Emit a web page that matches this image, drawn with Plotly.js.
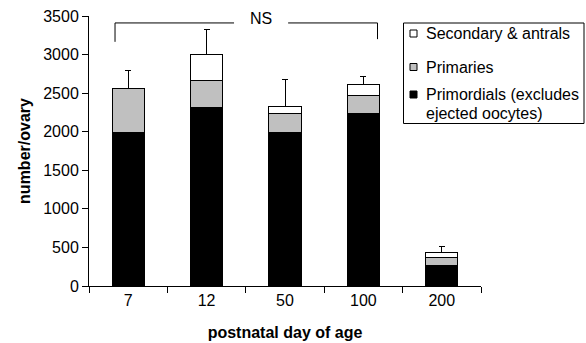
<!DOCTYPE html>
<html><head><meta charset="utf-8">
<script src="https://cdn.plot.ly/plotly-3.0.1.min.js"></script>
<style>html,body{margin:0;padding:0;background:#fff}#chart{width:586px;height:343px}</style>
</head><body><div id="chart"></div>
<script>
const days = ['7', '12', '50', '100', '200'];
const primordials = [1990, 2320, 1985, 2235, 268];
const primaries = [565, 350, 250, 232, 100];
const secondary = [10, 337, 95, 140, 70];
const errUp = [235, 320, 350, 112, 78];
const errDown = [0, 0, 0, 0, 0];
const yTicks = [0, 500, 1000, 1500, 2000, 2500, 3000, 3500];
const seriesNames = ['Secondary & antrals', 'Primaries', 'Primordials (excludes<br>ejected oocytes)'];
const seriesColors = ['white', '#c0c0c0', 'black'];

const FONT = "'Liberation Sans', Arial, sans-serif";
const line = {color: 'black', width: 1};

const traces = [
  {type: 'bar', x: days, y: primordials, name: seriesNames[2],
   marker: {color: seriesColors[2], line: line}},
  {type: 'bar', x: days, y: primaries, name: seriesNames[1],
   marker: {color: seriesColors[1], line: line}},
  {type: 'bar', x: days, y: secondary, name: seriesNames[0],
   marker: {color: seriesColors[0], line: line},
   error_y: {type: 'data', symmetric: false, array: errUp, arrayminus: errDown,
             color: 'black', thickness: 1, width: 3}}
];

// plot area in pixels: x 89..481, y 16..286
const px = v => (v - 89) / 392;
const py = v => (286 - v) / 270;

const shapes = [
  {type: 'line', xref: 'x', yref: 'y', x0: -0.168, x1: 1.35, y0: 3410, y1: 3410, line: line},
  {type: 'line', xref: 'x', yref: 'y', x0: 2.04, x1: 3.18, y0: 3410, y1: 3410, line: line},
  {type: 'line', xref: 'x', yref: 'y', x0: -0.168, x1: -0.168, y0: 3410, y1: 3165, line: line},
  {type: 'line', xref: 'x', yref: 'y', x0: 3.18, x1: 3.18, y0: 3410, y1: 3200, line: line},
  // legend box
  {type: 'rect', xref: 'paper', yref: 'paper', x0: px(403.5), x1: px(584), y0: py(23), y1: py(123.5),
   line: line, fillcolor: 'white', layer: 'above'}
];
const annotations = [
  {xref: 'x', yref: 'y', x: 1.69, y: 3470, text: 'NS', showarrow: false,
   font: {family: FONT, size: 16, color: 'black'}}
];
const legendRows = [33.5, 67, 94.5];
seriesNames.forEach((n, i) => {
  const cy = legendRows[i];
  shapes.push({type: 'rect', xref: 'paper', yref: 'paper', x0: px(410), x1: px(417), y0: py(cy - 3.5), y1: py(cy + 3.5),
               line: {color: 'black', width: 1}, fillcolor: seriesColors[i], layer: 'above'});
  const parts = n.split('<br>');
  parts.forEach((t, j) => {
    annotations.push({xref: 'paper', yref: 'paper', x: px(424), y: py(cy + j * 18.7), xanchor: 'left', yanchor: 'middle',
                      text: t, showarrow: false, font: {family: FONT, size: 16, color: 'black'}});
  });
});

const layout = {
  width: 586, height: 343,
  margin: {l: 89, r: 105, t: 16, b: 57},
  barmode: 'stack', bargap: 0.59,
  paper_bgcolor: 'white', plot_bgcolor: 'white',
  font: {family: FONT, size: 16, color: 'black'},
  showlegend: false,
  xaxis: {type: 'category', showline: true, linecolor: 'black', linewidth: 1,
          ticks: 'outside', ticklen: 6, tickcolor: 'black', tickson: 'boundaries',
          showgrid: false, zeroline: false,
          tickfont: {family: FONT, size: 16},
          title: {text: 'postnatal day of age', font: {family: FONT, size: 16, weight: 'bold'}, standoff: 18}},
  yaxis: {range: [0, 3500], showline: true, linecolor: 'black', linewidth: 1,
          ticks: 'outside', ticklen: 6, tickcolor: 'black', tickvals: yTicks,
          showgrid: false, zeroline: false,
          tickfont: {family: FONT, size: 16},
          title: {text: 'number/ovary', font: {family: FONT, size: 16, weight: 'bold'}, standoff: 8}},
  shapes: shapes,
  annotations: annotations
};

Plotly.newPlot('chart', traces, layout, {displayModeBar: false, staticPlot: true});
</script></body></html>
